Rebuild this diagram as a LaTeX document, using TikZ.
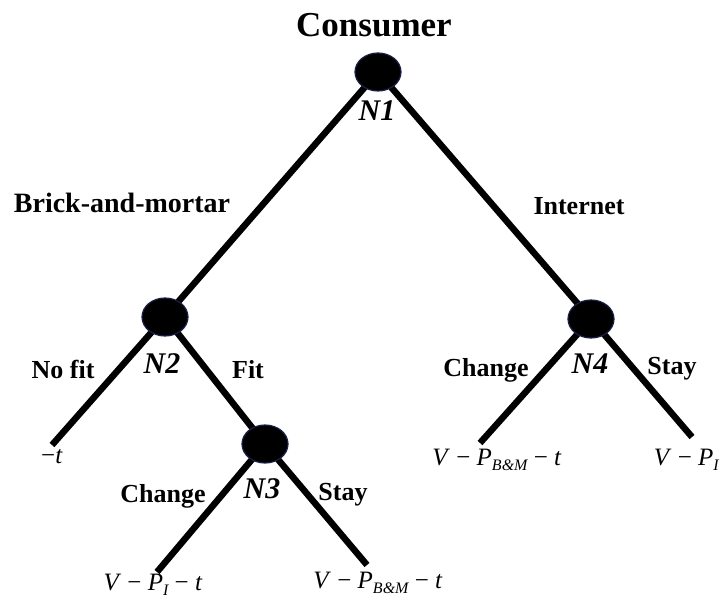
\documentclass[tikz,border=0pt]{standalone}
\usepackage{fontspec}
\setmainfont{Liberation Serif}
\usetikzlibrary{shapes.geometric,backgrounds}
\definecolor{nodeedge}{HTML}{1A1F4A}
% payoff typesetting: italic variables, true minus signs, lowered subscripts
\newcommand{\pv}[1]{\textit{#1}}
\newcommand{\pminus}{\hspace{0.25em}\char"2212\hspace{0.25em}}
\newcommand{\psub}[1]{\raisebox{-0.22em}{\fontsize{16}{16}\selectfont\itshape #1}}
\tikzset{
  decision/.style={ellipse, fill=black, draw=nodeedge, line width=1.2pt,
    minimum width=46pt, minimum height=38pt, inner sep=0pt},
  branch/.style={line width=6.5pt, black},
  title/.style={anchor=base, inner sep=0pt, font=\fontsize{35}{40}\selectfont\bfseries},
  nodename/.style={anchor=base, inner sep=0pt, font=\fontsize{30}{34}\selectfont\bfseries\itshape},
  choice/.style={anchor=base, inner sep=0pt, font=\fontsize{26}{30}\selectfont\bfseries},
  payoff/.style={anchor=base, inner sep=0pt, font=\fontsize{25}{29}\selectfont},
}
\begin{document}
\begin{tikzpicture}[x=1pt, y=-1pt]
  \useasboundingbox (0,0) rectangle (722,601);

  % decision nodes
  \node[decision] (n1) at (378,72) {};
  \node[decision] (n2) at (165,317) {};
  \node[decision] (n3) at (265,444) {};
  \node[decision] (n4) at (591,319) {};

  % ends of the terminal branches
  \coordinate (l1) at (52,445);
  \coordinate (l2) at (157,572);
  \coordinate (l3) at (367,565);
  \coordinate (l4) at (480,443);
  \coordinate (l5) at (692,437);

  \begin{scope}[on background layer]
    \draw[branch] (n1.center) -- (n2.center);
    \draw[branch] (n1.center) -- (n4.center);
    \draw[branch] (n2.center) -- (l1);
    \draw[branch] (n2.center) -- (n3.center);
    \draw[branch] (n3.center) -- (l2);
    \draw[branch] (n3.center) -- (l3);
    \draw[branch] (n4.center) -- (l4);
    \draw[branch] (n4.center) -- (l5);
  \end{scope}

  % player and node names
  \node[title] (consumer) at (374,37) {Consumer};
  \node[nodename] (t1) at (377,121) {N1};
  \node[nodename] (t2) at (162,373) {N2};
  \node[nodename] (t3) at (262,498) {N3};
  \node[nodename] (t4) at (590,373) {N4};

  % actions
  \node[choice, font=\fontsize{28}{32}\selectfont\bfseries] (bm) at (122,213) {Brick-and-mortar};
  \node[choice] (inet) at (579,215) {Internet};
  \node[choice] (nofit) at (63,378) {No fit};
  \node[choice] (fit) at (248,378) {Fit};
  \node[choice] (ch3) at (163,502) {Change};
  \node[choice] (st3) at (343,500) {Stay};
  \node[choice] (ch4) at (486,376) {Change};
  \node[choice] (st4) at (672,374) {Stay};

  % payoffs
  \node[payoff] (p1) at (52,463) {\char"2212\pv{t}};
  \node[payoff] (p2) at (153,590) {\pv{V}\pminus\pv{P}\psub{I}\pminus\pv{t}};
  \node[payoff] (p3) at (378,588) {\pv{V}\pminus\pv{P}\psub{B\&M}\pminus\pv{t}};
  \node[payoff] (p4) at (497,465) {\pv{V}\pminus\pv{P}\psub{B\&M}\pminus\pv{t}};
  \node[payoff, anchor=base east] (p5) at (719,465) {\pv{V}\pminus\pv{P}\psub{I}};
\end{tikzpicture}
\end{document}
